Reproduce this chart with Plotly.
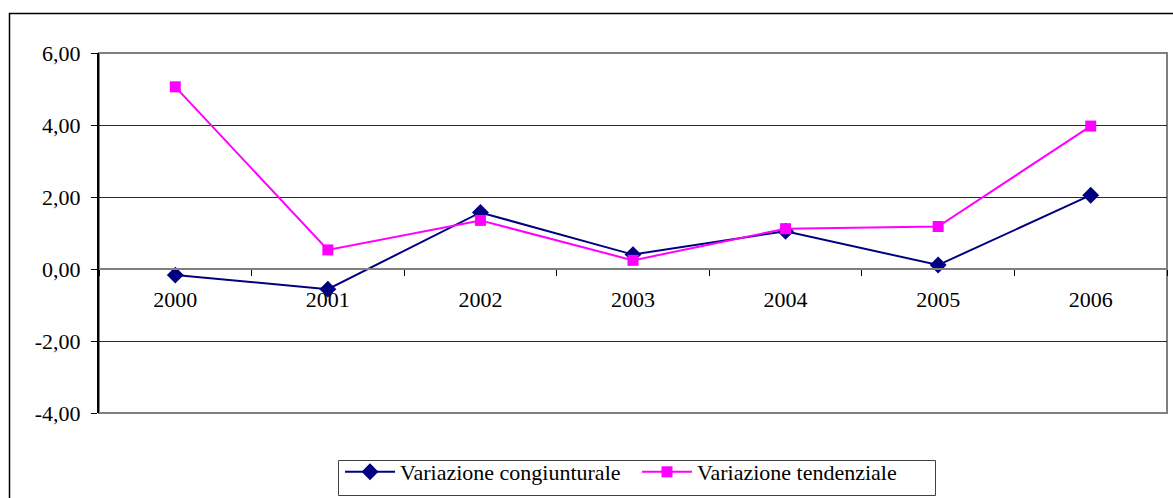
import plotly.graph_objects as go

years = ["2000", "2001", "2002", "2003", "2004", "2005", "2006"]
congiunturale = [-0.17, -0.56, 1.57, 0.40, 1.05, 0.11, 2.05]
tendenziale = [5.06, 0.53, 1.35, 0.24, 1.12, 1.18, 3.97]
y_tick_values = [-4, -2, 0, 2, 4, 6]
y_tick_labels = ["-4,00", "-2,00", "0,00", "2,00", "4,00", "6,00"]

FONT = "Liberation Serif, Times New Roman, serif"
FS = 22

fig = go.Figure()
fig.add_trace(go.Scatter(
    x=years, y=congiunturale, name="Variazione congiunturale",
    mode="lines+markers",
    line=dict(color="#000080", width=2),
    marker=dict(symbol="diamond", size=13, color="#000080"),
))
fig.add_trace(go.Scatter(
    x=years, y=tendenziale, name="Variazione tendenziale",
    mode="lines+markers",
    line=dict(color="#FF00FF", width=2),
    marker=dict(symbol="square", size=11, color="#FF00FF"),
))

W, H = 1173, 498
L, R, T, B = 99, 6, 53, 85
pw, ph = W - L - R, H - T - B

def px_x(x):
    return (x - L) / pw

def px_y(y):
    return 1 - (y - T) / ph

# plot area border
fig.add_shape(type="rect", xref="paper", yref="paper", x0=0, x1=1, y0=0, y1=1,
              line=dict(color="#808080", width=2), layer="below")
# outer chart border (cut at right and bottom)
fig.add_shape(type="path", xref="paper", yref="paper",
              path=f"M {px_x(9.5)} -0.5 L {px_x(9.5)} {px_y(13.5)} L 1.05 {px_y(13.5)}",
              line=dict(color="black", width=1.5))
# legend frame
fig.add_shape(type="rect", xref="paper", yref="paper",
              x0=px_x(338.5), x1=px_x(935.5), y0=px_y(495.5), y1=px_y(460.5),
              line=dict(color="#404040", width=1), fillcolor="white", layer="below")

fig.update_layout(
    width=W, height=H,
    margin=dict(l=L, r=R, t=T, b=B, pad=0, autoexpand=False),
    paper_bgcolor="white", plot_bgcolor="white",
    font=dict(family=FONT, size=FS, color="black"),
    showlegend=True,
    legend=dict(orientation="h", x=px_x(637), xanchor="center",
                xref="paper", yref="container",
                y=1 - 451 / H, yanchor="top",
                borderwidth=0,
                font=dict(family=FONT, size=FS, color="black"),
                itemwidth=50, entrywidth=232, tracegroupgap=0,
                bgcolor="rgba(0,0,0,0)"),
    xaxis=dict(
        type="category", anchor="free", position=0.4,
        showline=True, linecolor="#808080", linewidth=2,
        ticks="outside", ticklen=6, tickcolor="black", tickwidth=1,
        tickson="boundaries", ticklabelstandoff=11,
        showgrid=False, zeroline=False,
        range=[-0.5, 6.5],
        tickfont=dict(family=FONT, size=FS, color="black"),
    ),
    yaxis=dict(
        range=[-4, 6], tickmode="array",
        tickvals=y_tick_values, ticktext=y_tick_labels,
        showline=True, linecolor="black", linewidth=2,
        ticks="outside", ticklen=6, tickcolor="black",
        showgrid=True, gridcolor="#2a2a2a", gridwidth=1,
        zeroline=False, ticklabelstandoff=6,
        tickfont=dict(family=FONT, size=FS, color="black"),
    ),
)

fig.write_html("out.html", config={"displayModeBar": False},
               post_script="document.body.style.margin='0';document.body.style.overflow='hidden';")
